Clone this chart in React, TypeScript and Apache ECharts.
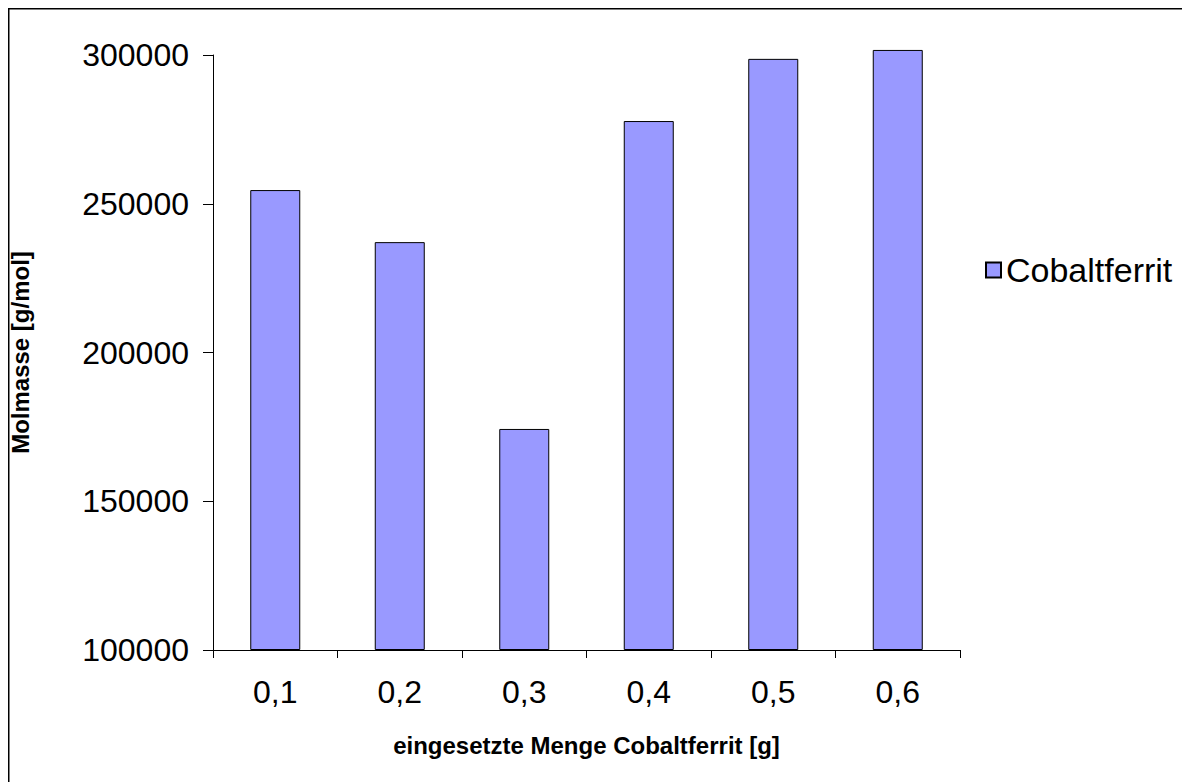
import React, { useEffect, useRef } from "react";
import * as echarts from "echarts";

const categories = ["0,1", "0,2", "0,3", "0,4", "0,5", "0,6"];
const molmasse = [254600, 237100, 174300, 277800, 298700, 301700];
const axisMin = 100000;
const axisMax = 300000;
const axisStep = 50000;
const seriesName = "Cobaltferrit";
const xTitle = "eingesetzte Menge Cobaltferrit [g]";
const yTitle = "Molmasse [g/mol]";

export default function App() {
  const ref = useRef<HTMLDivElement>(null);
  useEffect(() => {
    if (!ref.current) return;
    const chart = echarts.init(ref.current, null, { renderer: "svg" });
    const font = "Arial, 'Liberation Sans', sans-serif";
    chart.setOption({
      animation: false,
      backgroundColor: "#ffffff",
      textStyle: { fontFamily: font },
      graphic: [
        {
          type: "rect",
          shape: { x: 0.75, y: 0.75, width: 1400, height: 1000 },
          style: { fill: "none", stroke: "#000", lineWidth: 1.5 },
          silent: true,
          z: 100,
        },
      ],
      grid: {
        left: 205,
        top: 47,
        right: 230,
        bottom: 132,
        containLabel: false,
        outerBoundsMode: "none",
      },
      legend: {
        orient: "vertical",
        left: 972,
        top: 240,
        itemWidth: 15,
        itemHeight: 15,
        icon: "rect",
        textStyle: { fontSize: 34, color: "#000", fontFamily: font },
        data: [seriesName],
      },
      xAxis: {
        type: "category",
        data: categories,
        name: xTitle,
        nameLocation: "middle",
        nameGap: 83,
        nameTextStyle: { fontSize: 24, fontWeight: "bold", color: "#000", fontFamily: font },
        axisLine: { lineStyle: { color: "#000", width: 1 } },
        axisTick: { show: true, length: 8, lineStyle: { color: "#000" } },
        axisLabel: { fontSize: 32, color: "#000", margin: 26, fontFamily: font },
        z: 10,
      },
      yAxis: {
        type: "value",
        min: axisMin,
        max: axisMax,
        interval: axisStep,
        name: yTitle,
        nameLocation: "middle",
        nameGap: 181,
        nameTextStyle: { fontSize: 24, fontWeight: "bold", color: "#000", fontFamily: font },
        axisLine: { show: true, lineStyle: { color: "#000", width: 1 } },
        axisTick: { show: true, length: 10, lineStyle: { color: "#000" } },
        axisLabel: {
          fontSize: 32,
          color: "#000",
          margin: 24,
          fontFamily: font,
          formatter: (v: number) => String(v),
        },
        splitLine: { show: false },
      },
      series: [
        {
          name: "base",
          type: "bar",
          stack: "m",
          data: molmasse.map(() => axisMin),
          barWidth: 50,
          clip: false,
          silent: true,
          itemStyle: { color: "rgba(0,0,0,0)", borderWidth: 0 },
        },
        {
          name: seriesName,
          type: "bar",
          stack: "m",
          data: molmasse.map((v) => v - axisMin),
          barWidth: 50,
          clip: false,
          itemStyle: { color: "#9999FF", borderColor: "#000", borderWidth: 1 },
        },
      ],
    });
    return () => chart.dispose();
  }, []);
  return <div ref={ref} style={{ width: 1182, height: 774 }} />;
}
